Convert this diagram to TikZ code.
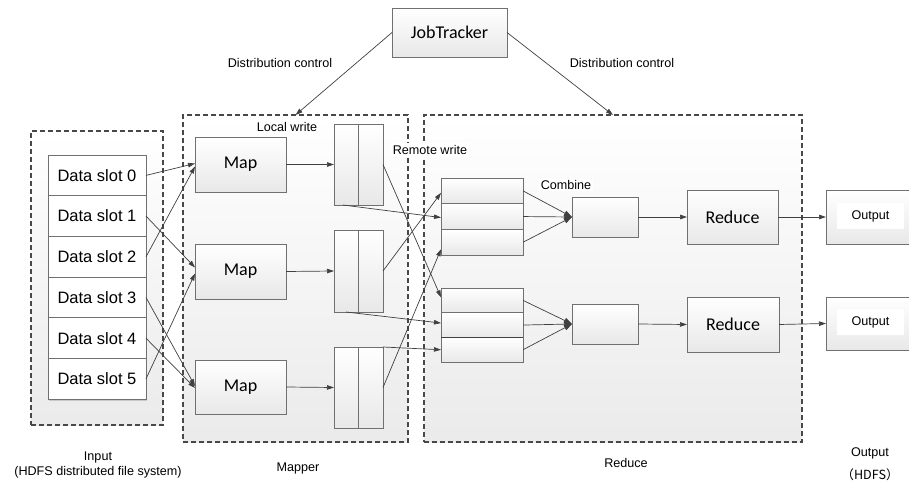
\documentclass[tikz,border=0pt]{standalone}
\usepackage{fontspec}
\setmainfont{Liberation Sans}
\newfontfamily\calib{Carlito}
\newfontfamily\cjk{Noto Sans CJK SC}
\usetikzlibrary{arrows.meta,calc,shadows}

\definecolor{bordc}{RGB}{112,112,112}
\definecolor{linec}{RGB}{64,64,64}
\definecolor{dashc}{RGB}{72,72,72}

\begin{document}
\begin{tikzpicture}[x=1pt,y=-1pt,
  every node/.style={inner sep=0pt, outer sep=0pt},
  shad/.style={drop shadow={shadow xshift=1.3pt, shadow yshift=-1.3pt, fill=black!30, opacity=0.6}},
  box/.style={draw=bordc, line width=0.8pt, top color=white, bottom color=black!9, shad},
  cbox/.style={box, font=\calib\fontsize{18}{20}\selectfont},
  slotbox/.style={draw=bordc, line width=0.8pt, fill=white, shad, minimum width=98, minimum height=40.7, font=\fontsize{16.5}{18}\selectfont},
  container/.style={draw=dashc, line width=1.3pt, dash pattern=on 5pt off 3pt, top color=white, bottom color=black!8},
  arr/.style={draw=linec, line width=0.7pt, -{Triangle[length=7pt,width=4.5pt]}},
  carr/.style={draw=linec, line width=0.7pt, -{Triangle[length=8pt,width=5.5pt]}},
  lab/.style={font=\fontsize{12.6}{15}\selectfont},
  rowbox/.style={box, minimum width=82},
  bufbox/.style={box, minimum width=49},
  outtext/.style={lab, fill=white, minimum width=67, minimum height=26}
]
\useasboundingbox (0,0) rectangle (909,481);

% containers
\node[container, minimum width=132, minimum height=294] (inbox) at (97,278) {};
\node[container, minimum width=225, minimum height=327] (mapbox) at (295.5,278.5) {};
\node[container, minimum width=378, minimum height=327] (redbox) at (613,278.5) {};

% labels with white background
\node[lab, fill=white, inner sep=2pt] (lw) at (287,127) {Local write};
\node[lab, fill=white, inner sep=2pt] (rw) at (430,150) {Remote write};
\node[lab, fill=white, inner sep=1.5pt] (cb) at (566,185) {Combine};
\node[lab] (dc1) at (280,63) {Distribution control};
\node[lab] (dc2) at (622,63) {Distribution control};

% JobTracker
\node[cbox, minimum width=115, minimum height=49] (jt) at (449.5,32.5) {JobTracker};

% data slots
\foreach \i in {0,...,5}
  \node[slotbox] (s\i) at (97,{175.4+40.7*\i}) {Data slot \i};

% maps
\node[cbox, minimum width=91, minimum height=55] (m1) at (240.5,164.5) {Map};
\node[cbox, minimum width=91, minimum height=55] (m2) at (240.5,271.5) {Map};
\node[cbox, minimum width=91, minimum height=54] (m3) at (240.5,387) {Map};

% buffers
\node[bufbox, minimum height=81] (b1) at (358.5,164.5) {};
\node[bufbox, minimum height=82] (b2) at (358.5,271) {};
\node[bufbox, minimum height=81] (b3) at (358.5,387.5) {};
\foreach \b in {b1,b2,b3}
  \draw[bordc, line width=0.8pt] (\b.north) -- (\b.south);

% reducer input rows
\node[rowbox, minimum height=25.7] (k1a) at (482,190.85) {};
\node[rowbox, minimum height=25.7] (k1b) at (482,216.55) {};
\node[rowbox, minimum height=25.7] (k1c) at (482,242.25) {};
\node[rowbox, minimum height=24.7] (k2a) at (482,300.35) {};
\node[rowbox, minimum height=24.7] (k2b) at (482,325.05) {};
\node[rowbox, minimum height=24.7] (k2c) at (482,349.75) {};
\draw[linec, line width=1.3pt] (k2b.south west) -- (k2b.south east);

% combine boxes
\node[box, minimum width=66, minimum height=40] (c1) at (605,217) {};
\node[box, minimum width=66, minimum height=40] (c2) at (605,324) {};

% reduce boxes
\node[cbox, minimum width=91, minimum height=54] (r1) at (732.5,217) {Reduce};
\node[cbox, minimum width=92, minimum height=55] (r2) at (733,324.5) {Reduce};

% output boxes
\node[box, minimum width=86, minimum height=54] (o1) at (869,217) {};
\node[box, minimum width=86, minimum height=53] (o2) at (869,323.5) {};
\node[outtext] (ot1) at (870.5,216) {Output};
\node[outtext] (ot2) at (870.5,322) {Output};

% bottom captions
\node[lab] (cap1) at (98,457) {Input};
\node[lab] (cap2) at (98,472) {(HDFS distributed file system)};
\node[lab] (cap3) at (298,468) {Mapper};
\node[lab] (cap4) at (626,463) {Reduce};
\node[lab] (cap5) at (870,453) {Output};
\node[lab] (cap6) at (870,475) {\cjk （HDFS）};

% arrows
\draw[arr] (jt.west) -- (mapbox.north);
\draw[arr] (jt.east) -- (redbox.north);

\draw[arr] (s0.east) -- ($(m1.west)+(0,-1)$);
\draw[arr] (s2.east) -- ($(m1.west)+(0,2)$);
\draw[arr] (s1.east) -- ($(m2.west)+(0,-4)$);
\draw[arr] (s5.east) -- ($(m2.west)+(0,2)$);
\draw[arr] (s3.east) -- ($(m3.west)+(0,-1)$);
\draw[arr] (s4.east) -- ($(m3.west)+(0,1)$);

\draw[arr] (m1.east) -- (b1.west);
\draw[arr] (m2.east) -- (b2.west);
\draw[arr] (m3.east) -- (b3.west);

\draw[arr] (b1.east) -- ($(k2a.west)+(0,-3)$);
\draw[arr] ($(b1.south west)+(9,0)$) -- ($(k1b.west)+(0,1)$);
\draw[arr] (b2.east) -- ($(k1a.west)+(0,2)$);
\draw[arr] ($(b2.south west)+(12,0)$) -- ($(k2b.west)+(0,-2)$);
\draw[arr] (b3.north east) -- (k2c.west);
\draw[arr] (b3.east) -- ($(k1c.west)+(0,7)$);

\foreach \r in {a,b,c} {
  \draw[carr] (k1\r.east) -- (c1.west);
  \draw[carr] (k2\r.east) -- (c2.west);
}

\draw[arr] (c1.east) -- (r1.west);
\draw[arr] (c2.east) -- (r2.west);
\draw[arr] (r1.east) -- (o1.west);
\draw[arr] (r2.east) -- (o2.west);
\end{tikzpicture}
\end{document}
